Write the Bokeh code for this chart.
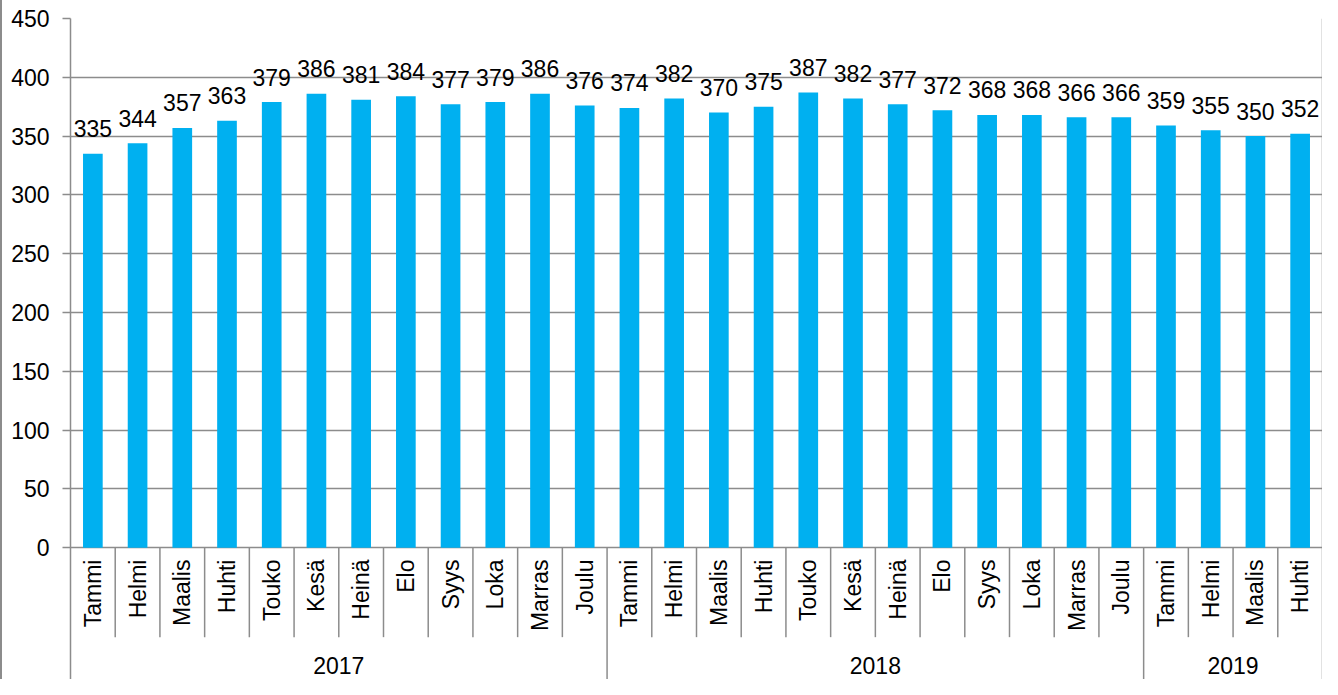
from math import pi
from bokeh.plotting import figure
from bokeh.models import ColumnDataSource, Range1d, FixedTicker
from bokeh.core.properties import value
from bokeh.embed import file_html
from bokeh.resources import INLINE

years = ["2017", "2018", "2019"]
months_per_year = [12, 12, 4]
months = ["Tammi", "Helmi", "Maalis", "Huhti", "Touko", "Kesä", "Heinä", "Elo", "Syys", "Loka", "Marras", "Joulu",
          "Tammi", "Helmi", "Maalis", "Huhti", "Touko", "Kesä", "Heinä", "Elo", "Syys", "Loka", "Marras", "Joulu",
          "Tammi", "Helmi", "Maalis", "Huhti"]
values = [335, 344, 357, 363, 379, 386, 381, 384, 377, 379, 386, 376,
          374, 382, 370, 375, 387, 382, 377, 372, 368, 368, 366, 366,
          359, 355, 350, 352]
y_ticks = [0, 50, 100, 150, 200, 250, 300, 350, 400, 450]

BAR = "#00B0F0"
GRAY = "#8C8C8C"
FONT = "Liberation Sans"
FS = "23px"

n = len(values)
xc = [i + 0.5 for i in range(n)]

Y_MIN, Y_MAX = -112, 450
p = figure(width=1322, height=679, output_backend="svg", toolbar_location=None,
           x_range=Range1d(0, n), y_range=Range1d(Y_MIN, Y_MAX),
           min_border_left=68, min_border_right=2, min_border_top=18, min_border_bottom=0)
p.outline_line_color = None
p.xaxis.visible = False
p.xgrid.visible = False
p.background_fill_color = "white"
p.styles = {"border-left": "2px solid #8C8C8C"}

yax = p.yaxis[0]
yax.ticker = FixedTicker(ticks=y_ticks)
yax.axis_line_color = GRAY
yax.axis_line_width = 1.5
yax.major_tick_line_color = GRAY
yax.major_tick_line_width = 1.5
yax.major_tick_out = 8
yax.major_tick_in = 0
yax.minor_tick_line_color = None
yax.major_label_standoff = 13
yax.major_label_text_font = FONT
yax.major_label_text_font_size = FS
yax.major_label_text_color = "black"

p.ygrid.ticker = FixedTicker(ticks=y_ticks)
p.ygrid.grid_line_color = GRAY
p.ygrid.grid_line_width = 1.5

src = ColumnDataSource(dict(x=xc, v=values, lab=[str(v) for v in values], m=months,
                            my=[-10] * n))
p.vbar(x="x", top="v", bottom=0, width=0.44, source=src, fill_color=BAR, line_color=None)

p.text(x="x", y="v", text="lab", source=src, text_align="center", text_baseline="alphabetic",
       y_offset=-25, text_font=value(FONT), text_font_size=FS, text_color="black")

# month labels, vertical
p.text(x="x", y="my", text="m", source=src, angle=pi / 2, text_align="right",
       text_baseline="middle", text_font=value(FONT), text_font_size=FS, text_color="black")

# separators
bounds = []
acc = 0
for c in months_per_year:
    acc += c
    bounds.append(acc)
month_sep = [i for i in range(1, n) if i not in bounds]
p.segment(x0=month_sep, y0=[0] * len(month_sep), x1=month_sep, y1=[-76] * len(month_sep),
          line_color=GRAY, line_width=1.5)
p.segment(x0=bounds, y0=[Y_MIN] * len(bounds), x1=bounds, y1=[Y_MAX if b == n else 0 for b in bounds],
          line_color=GRAY, line_width=1.5)

# year labels
starts = [b - c for b, c in zip(bounds, months_per_year)]
yc = [(s + b) / 2 for s, b in zip(starts, bounds)]
p.text(x=yc, y=[-100] * len(years), text=years, text_align="center", text_baseline="middle",
       text_font=value(FONT), text_font_size=FS, text_color="black")

open("out.html", "w").write(file_html(p, INLINE))
